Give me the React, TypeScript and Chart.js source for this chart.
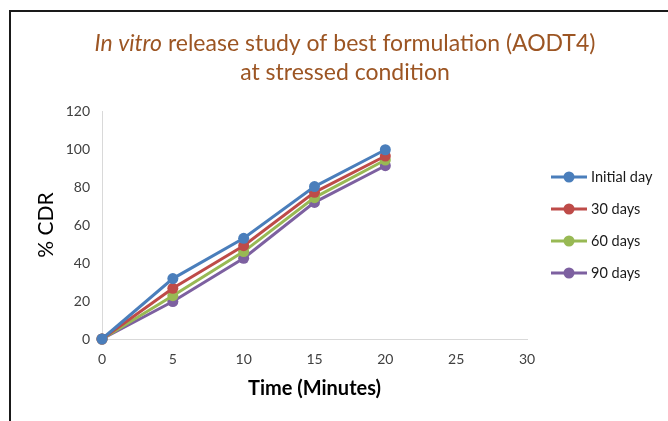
import React, { useEffect, useRef } from "react";
import { Chart, registerables } from "chart.js";

Chart.register(...registerables);

const times = [0, 5, 10, 15, 20];
const seriesLabels = ["Initial day", "30 days", "60 days", "90 days"];
const initialDay = [0, 31.8, 53.0, 80.2, 99.6];
const days30 = [0, 26.7, 49.1, 77.2, 96.3];
const days60 = [0, 22.8, 46.0, 74.4, 94.2];
const days90 = [0, 19.7, 42.5, 71.9, 91.2];
const seriesColors = ["#4a7ebb", "#be4b48", "#98b954", "#7d60a0"];
const yTicks = [0, 20, 40, 60, 80, 100, 120];
const xTicks = [0, 5, 10, 15, 20, 25, 30];
const titleItalic = "In vitro";
const titleRest = " release study of best formulation (AODT4)";
const titleLine2 = "at stressed condition";
const xTitle = "Time (Minutes)";
const yTitle = "% CDR";

const FONT = "Lato, 'Open Sans', sans-serif";

const decorPlugin = {
  id: "decor",
  beforeDraw(chart: any) {
    const ctx = chart.ctx;
    ctx.save();
    ctx.fillStyle = "#ffffff";
    ctx.fillRect(0, 0, chart.width, chart.height);
    ctx.restore();
  },
  afterDraw(chart: any) {
    const ctx = chart.ctx;
    ctx.save();
    // frame
    ctx.strokeStyle = "#1a1a1a";
    ctx.lineWidth = 2;
    ctx.beginPath();
    ctx.moveTo(10, chart.height + 2);
    ctx.lineTo(10, 11);
    ctx.lineTo(chart.width + 2, 11);
    ctx.stroke();

    // title
    ctx.fillStyle = "#9c5523";
    ctx.textBaseline = "middle";
    const italicFont = "italic 23px " + FONT;
    const normalFont = "23px " + FONT;
    ctx.font = italicFont;
    const w1 = ctx.measureText(titleItalic).width;
    ctx.font = normalFont;
    const w2 = ctx.measureText(titleRest).width;
    const cx = 345;
    const x0 = cx - (w1 + w2) / 2;
    ctx.textAlign = "left";
    ctx.font = italicFont;
    ctx.fillText(titleItalic, x0, 44);
    ctx.font = normalFont;
    ctx.fillText(titleRest, x0 + w1, 44);
    ctx.textAlign = "center";
    ctx.fillText(titleLine2, cx, 73);

    // legend
    const ys = [177, 209, 241, 273];
    chart.data.datasets.forEach((ds: any, i: number) => {
      const y = ys[i];
      ctx.strokeStyle = ds.borderColor;
      ctx.lineWidth = 3;
      ctx.beginPath();
      ctx.moveTo(551, y);
      ctx.lineTo(587, y);
      ctx.stroke();
      ctx.fillStyle = ds.backgroundColor;
      ctx.beginPath();
      ctx.arc(569, y, 5.5, 0, Math.PI * 2);
      ctx.fill();
      ctx.fillStyle = "#1a1a1a";
      ctx.font = "14.5px " + FONT;
      ctx.textAlign = "left";
      ctx.textBaseline = "middle";
      ctx.fillText(ds.label, 591, y);
    });
    ctx.restore();
  },
};

export default function App() {
  const ref = useRef<HTMLCanvasElement>(null);
  useEffect(() => {
    if (!ref.current) return;
    const values = [initialDay, days30, days60, days90];
    const chart = new Chart(ref.current, {
      type: "line",
      data: {
        datasets: values.map((v, i) => ({
          label: seriesLabels[i],
          data: times.map((t, j) => ({ x: t, y: v[j] })),
          borderColor: seriesColors[i],
          backgroundColor: seriesColors[i],
          pointBackgroundColor: seriesColors[i],
          pointBorderColor: seriesColors[i],
          borderWidth: 3,
          pointRadius: 5.5,
          pointBorderWidth: 0,
          tension: 0,
          clip: false,
        })),
      },
      options: {
        responsive: false,
        animation: false,
        layout: { padding: { left: 33, top: 111, right: 141, bottom: 18 } },
        plugins: { legend: { display: false }, title: { display: false }, tooltip: { enabled: false } },
        scales: {
          x: {
            type: "linear",
            min: 0,
            max: 30,
            afterBuildTicks: (scale: any) => {
              scale.ticks = xTicks.map((v) => ({ value: v }));
            },
            afterFit: (scale: any) => {
              scale.height = 64;
            },
            grid: { display: false, drawTicks: false },
            border: { display: true, color: "#d9d9d9", width: 1 },
            ticks: { color: "#404040", font: { family: FONT, size: 14 }, padding: 12 },
            title: { display: true, text: xTitle, color: "#000000", font: { family: FONT, size: 20, weight: "bold" }, padding: { top: 2, bottom: 2 } },
          },
          y: {
            type: "linear",
            min: 0,
            max: 120,
            afterBuildTicks: (scale: any) => {
              scale.ticks = yTicks.map((v) => ({ value: v }));
            },
            afterFit: (scale: any) => {
              scale.width = 69;
            },
            grid: { display: false, drawTicks: false },
            border: { display: true, color: "#d9d9d9", width: 1 },
            ticks: { color: "#404040", font: { family: FONT, size: 14 }, padding: 12 },
            title: { display: true, text: yTitle, color: "#000000", font: { family: FONT, size: 21 }, padding: { top: 1, bottom: 1 } },
          },
        },
      },
      plugins: [decorPlugin],
    } as any);
    return () => chart.destroy();
  }, []);
  return (
    <div style={{ position: "absolute", left: 0, top: 0, width: 668, height: 421 }}>
      <canvas ref={ref} width={668} height={421} style={{ width: 668, height: 421, display: "block" }} />
    </div>
  );
}
